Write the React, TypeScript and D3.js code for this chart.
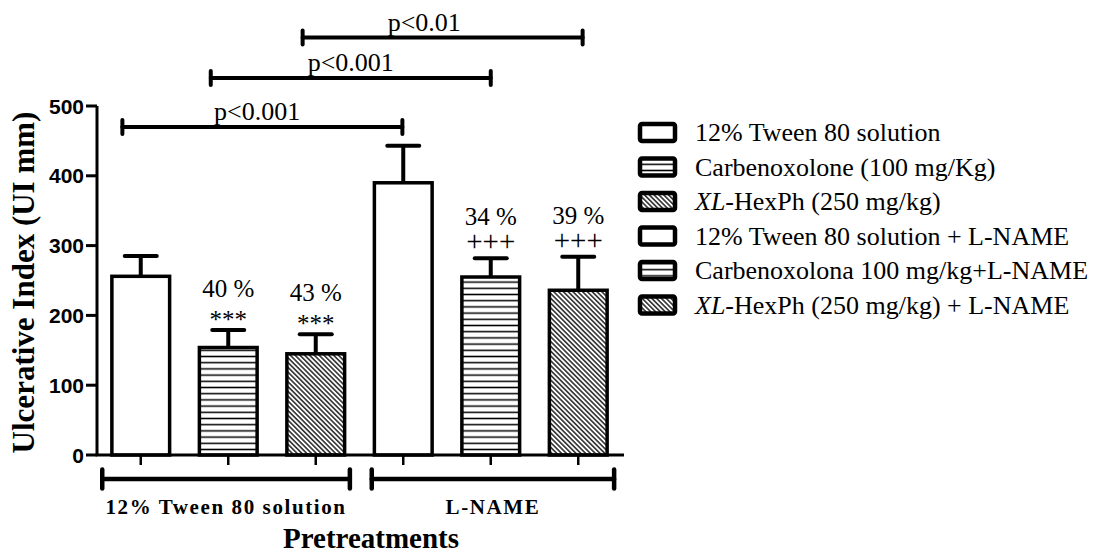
import React from 'react';
import * as d3 from 'd3';

const categories = [
  '12% Tween 80 solution',
  'Carbenoxolone (100 mg/Kg)',
  'XL-HexPh (250 mg/kg)',
  '12% Tween 80 solution + L-NAME',
  'Carbenoxolona 100 mg/kg+L-NAME',
  'XL-HexPh (250 mg/kg) + L-NAME',
];
const means = [256, 154, 145, 390, 255, 236];
const sems = [29, 25, 28, 53, 27, 48];
const patterns = ['white', 'hstripe', 'diag', 'white', 'hstripe', 'diag'];
const percentLabels = ['', '40 %', '43 %', '', '34 %', '39 %'];
const sigMarks = ['', '***', '***', '', '+++', '+++'];
const yTicks = [0, 100, 200, 300, 400, 500];

// comparison brackets: positions in bar-index units, height in y-value units
const bracketFrom = [-0.21, 0.8, 1.85];
const bracketTo = [2.99, 4.0, 5.05];
const bracketLevel = [470, 540, 598];
const bracketLabels = ['p<0.001', 'p<0.001', 'p<0.01'];
const bracketLabelAt = [1.33, 2.4, 3.24];

const groupLabels = ['12% Tween 80 solution', 'L-NAME'];
const groupFrom = [-0.44, 2.64];
const groupTo = [2.39, 5.41];

const W = 1097;
const H = 553;
const serif = '"Liberation Serif", "Times New Roman", Times, serif';
const sans = '"Liberation Sans", Arial, Helvetica, sans-serif';

function fillFor(p: string) {
  if (p === 'hstripe') return 'url(#hstripe)';
  if (p === 'diag') return 'url(#diag)';
  return '#fff';
}

function LegendLabel({ text }: { text: string }) {
  if (text.startsWith('XL-')) {
    return (
      <>
        <tspan fontStyle="italic">XL</tspan>
        <tspan>{text.slice(2)}</tspan>
      </>
    );
  }
  return <>{text}</>;
}

export default function App() {
  const x = d3
    .scaleBand<number>()
    .domain(d3.range(categories.length))
    .range([97, 622])
    .paddingInner(0.34)
    .paddingOuter(0.17);
  const y = d3.scaleLinear().domain([0, 500]).range([455, 106]);
  const bw = x.bandwidth();
  const cx = (i: number) => (x(i) as number) + bw / 2;
  const xi = d3.scaleLinear().domain([0, categories.length - 1]).range([cx(0), cx(categories.length - 1)]);
  const axisX0 = 97;
  const axisX1 = 624;
  const y0 = y(0);
  const groupY = y0 + 24;

  return (
    <svg
      width={W}
      height={H}
      style={{ position: 'absolute', left: 0, top: 0, display: 'block', background: '#fff' }}
    >
      <defs>
        <pattern id="hstripe" patternUnits="userSpaceOnUse" width={8} height={6.2}>
          <rect width={8} height={6.2} fill="#fff" />
          <line x1={0} x2={8} y1={3.1} y2={3.1} stroke="#000" strokeWidth={1.5} />
        </pattern>
        <pattern
          id="diag"
          patternUnits="userSpaceOnUse"
          width={3.4}
          height={10}
          patternTransform="rotate(-45)"
        >
          <rect width={3.4} height={10} fill="#fff" />
          <line x1={1.7} x2={1.7} y1={0} y2={10} stroke="#000" strokeWidth={1.3} />
        </pattern>
      </defs>

      {/* bars */}
      {means.map((m, i) => {
        const isPlus = sigMarks[i] === '+++';
        return (
          <g key={i}>
            <line
              x1={cx(i)}
              x2={cx(i)}
              y1={y(m)}
              y2={y(m + sems[i])}
              stroke="#000"
              strokeWidth={4}
            />
            <line
              x1={cx(i) - 16}
              x2={cx(i) + 16}
              y1={y(m + sems[i])}
              y2={y(m + sems[i])}
              stroke="#000"
              strokeWidth={4}
              strokeLinecap="round"
            />
            <rect
              x={x(i)}
              y={y(m)}
              width={bw}
              height={y0 - y(m)}
              fill={fillFor(patterns[i])}
              stroke="#000"
              strokeWidth={3.5}
            />
            {sigMarks[i] && (
              <text
                x={cx(i)}
                y={y(m + sems[i]) - (isPlus ? 7 : 2.5)}
                textAnchor="middle"
                fontFamily={serif}
                fontSize={isPlus ? 29 : 25}
                fill="#000"
              >
                {sigMarks[i]}
              </text>
            )}
            {percentLabels[i] && (
              <text
                x={cx(i)}
                y={y(m + sems[i]) - 33}
                textAnchor="middle"
                fontFamily={serif}
                fontSize={25}
                fill="#000"
              >
                {percentLabels[i]}
              </text>
            )}
          </g>
        );
      })}

      {/* axes */}
      <line x1={axisX0} x2={axisX0} y1={y(500)} y2={y0} stroke="#000" strokeWidth={3} />
      <line x1={axisX0 - 1.5} x2={axisX1} y1={y0} y2={y0} stroke="#000" strokeWidth={3} />
      {yTicks.map((t) => (
        <g key={t}>
          <line x1={axisX0 - 11} x2={axisX0} y1={y(t)} y2={y(t)} stroke="#000" strokeWidth={3} />
          <text
            x={axisX0 - 13}
            y={y(t)}
            dy="0.36em"
            textAnchor="end"
            fontFamily={sans}
            fontWeight="bold"
            fontSize={21}
            fill="#000"
          >
            {t}
          </text>
        </g>
      ))}
      {means.map((_, i) => (
        <line key={i} x1={cx(i)} x2={cx(i)} y1={y0} y2={y0 + 10} stroke="#000" strokeWidth={2.5} />
      ))}

      {/* y title */}
      <text
        transform={`translate(34, ${(y(500) + y0) / 2 + 2}) rotate(-90)`}
        textAnchor="middle"
        fontFamily={serif}
        fontWeight="bold"
        fontSize={31}
        fill="#000"
      >
        Ulcerative Index (UI mm)
      </text>

      {/* comparison brackets */}
      {bracketLabels.map((lab, k) => {
        const yy = y(bracketLevel[k]);
        const a = xi(bracketFrom[k]);
        const b = xi(bracketTo[k]);
        return (
          <g key={k} stroke="#000" strokeWidth={4} strokeLinecap="round">
            <line x1={a} x2={b} y1={yy} y2={yy} />
            <line x1={a} x2={a} y1={yy - 7} y2={yy + 7} />
            <line x1={b} x2={b} y1={yy - 7} y2={yy + 7} />
            <text
              x={xi(bracketLabelAt[k])}
              y={yy - 7}
              textAnchor="middle"
              fontFamily={serif}
              fontSize={26}
              fill="#000"
              stroke="none"
            >
              {lab}
            </text>
          </g>
        );
      })}

      {/* group brackets */}
      {groupLabels.map((lab, k) => {
        const a = xi(groupFrom[k]);
        const b = xi(groupTo[k]);
        return (
          <g key={k} stroke="#000" strokeWidth={4.5} strokeLinecap="round">
            <line x1={a} x2={b} y1={groupY} y2={groupY} />
            <line x1={a} x2={a} y1={groupY - 9.5} y2={groupY + 9.5} />
            <line x1={b} x2={b} y1={groupY - 9.5} y2={groupY + 9.5} />
            <text
              x={(a + b) / 2}
              y={groupY + 35}
              textAnchor="middle"
              fontFamily={serif}
              fontWeight="bold"
              fontSize={21}
              letterSpacing={1.6}
              fill="#000"
              stroke="none"
            >
              {lab}
            </text>
          </g>
        );
      })}

      <text
        x={371}
        y={548}
        textAnchor="middle"
        fontFamily={serif}
        fontWeight="bold"
        fontSize={29}
        fill="#000"
      >
        Pretreatments
      </text>

      {/* legend */}
      {categories.map((c, i) => {
        const ry = 132.5 + i * 34.5;
        return (
          <g key={i}>
            <rect
              x={640}
              y={ry - 8.5}
              width={35}
              height={17}
              rx={2}
              fill={fillFor(patterns[i])}
              stroke="#000"
              strokeWidth={4.5}
            />
            <text x={695} y={ry + 8.5} fontFamily={serif} fontSize={26} fill="#000">
              <LegendLabel text={c} />
            </text>
          </g>
        );
      })}
    </svg>
  );
}
